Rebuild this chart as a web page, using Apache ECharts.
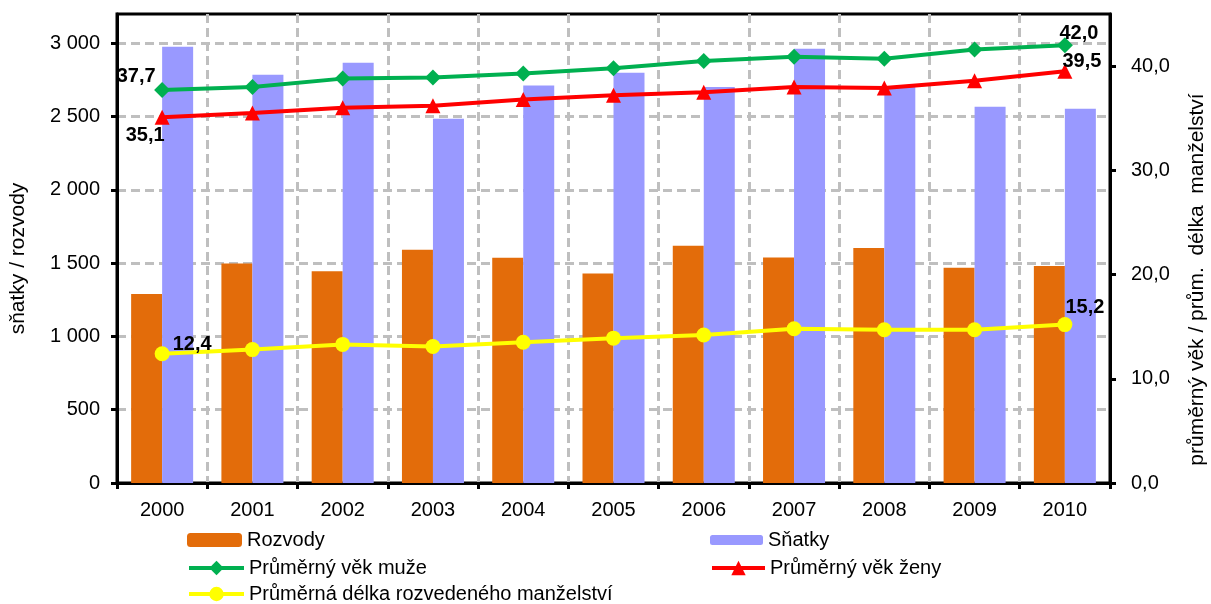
<!DOCTYPE html>
<html>
<head>
<meta charset="utf-8">
<script src="https://cdn.jsdelivr.net/npm/echarts@6/dist/echarts.min.js"></script>
<style>
html,body{margin:0;padding:0;background:#fff;}
#chart{width:1211px;height:604px;}
</style>
</head>
<body>
<div id="chart"></div>
<script>
const years = ['2000','2001','2002','2003','2004','2005','2006','2007','2008','2009','2010'];
const rozvody = [1290, 1497, 1444, 1592, 1537, 1430, 1619, 1539, 1603, 1469, 1480];
const snatky = [2977, 2786, 2868, 2486, 2713, 2800, 2702, 2963, 2705, 2568, 2554];
const vekMuze = [37.7, 38.0, 38.8, 38.9, 39.3, 39.8, 40.5, 40.9, 40.7, 41.6, 42.0];
const vekZeny = [35.1, 35.5, 36.0, 36.2, 36.8, 37.2, 37.5, 38.0, 37.9, 38.6, 39.5];
const delka = [12.4, 12.8, 13.3, 13.1, 13.5, 13.9, 14.2, 14.8, 14.7, 14.7, 15.2];
const leftTicks = [0, 500, 1000, 1500, 2000, 2500, 3000];
const rightTicks = [0, 10, 20, 30, 40];

const FONT = '"Liberation Sans", Arial, sans-serif';
const FS = 20;
const fmtDec = v => v.toFixed(1).replace('.', ',');
const fmtThousands = v => {
  const s = String(Math.round(v));
  return s.length > 3 ? s.slice(0, s.length - 3) + ' ' + s.slice(-3) : s;
};
const labelBase = {
  show: true, color: '#000', fontFamily: FONT, fontSize: 20, fontWeight: 'bold',
  formatter: p => fmtDec(p.value)
};
function withEndLabels(arr, firstLbl, lastLbl) {
  return arr.map((v, i) => {
    if (i === 0) return { value: v, label: Object.assign({}, labelBase, firstLbl) };
    if (i === arr.length - 1) return { value: v, label: Object.assign({}, labelBase, lastLbl) };
    return v;
  });
}
const dashed = { color: '#BFBFBF', width: 3, type: [9, 5] };
const legendText = { fontFamily: FONT, fontSize: FS, color: '#000', lineHeight: 22 };
function oneLegend(name, left, top, w, h) {
  return {
    left: left, top: top, itemWidth: w, itemHeight: h, padding: 0,
    textStyle: legendText, data: [name],
    lineStyle: { width: 4 }
  };
}

const chart = echarts.init(document.getElementById('chart'), null, { renderer: 'canvas' });
chart.setOption({
  animation: false,
  backgroundColor: '#fff',
  textStyle: { fontFamily: FONT, color: '#000' },
  grid: { left: 117, right: 101, top: 14, bottom: 121, show: true, borderColor: '#000', borderWidth: 3,
    containLabel: false, outerBoundsMode: 'none' },
  legend: [
    oneLegend('Rozvody', 187, 529, 55, 14),
    oneLegend('Sňatky', 710, 529, 53, 10),
    oneLegend('Průměrný věk muže', 187, 557, 55, 18),
    oneLegend('Průměrný věk ženy', 710, 557, 53, 18),
    oneLegend('Průměrná délka rozvedeného manželství', 187, 583, 55, 18)
  ],
  xAxis: {
    type: 'category', data: years, boundaryGap: true,
    axisLine: { show: true, lineStyle: { color: '#000', width: 3 } },
    axisTick: { show: true, length: 6, lineStyle: { color: '#000', width: 3 } },
    axisLabel: { color: '#000', fontSize: FS, fontFamily: FONT, margin: 17 },
    splitLine: { show: true, lineStyle: dashed }
  },
  yAxis: [
    {
      type: 'value', min: 0, max: 3200, interval: 500, position: 'left',
      name: 'sňatky / rozvody', nameLocation: 'middle', nameRotate: 90, nameGap: 88,
      nameTextStyle: { fontSize: 21, fontFamily: FONT, color: '#000', padding: [0, 20, 0, 0] },
      axisLine: { show: true, lineStyle: { color: '#000', width: 3 } },
      axisTick: { show: true, length: 6, lineStyle: { color: '#000', width: 3 }, customValues: leftTicks },
      axisLabel: { color: '#000', fontSize: FS, fontFamily: FONT, margin: 17, customValues: leftTicks,
        formatter: v => v > 3000 ? '' : fmtThousands(v) },
      splitLine: { show: true, lineStyle: dashed }
    },
    {
      type: 'value', min: 0, max: 45, interval: 10, position: 'right',
      name: 'průměrný věk / prům.  délka  manželství', nameLocation: 'middle', nameRotate: 90, nameGap: 77,
      nameTextStyle: { fontSize: 21, fontFamily: FONT, color: '#000', padding: [0, 62, 0, 0] },
      axisLine: { show: true, lineStyle: { color: '#000', width: 3 } },
      axisTick: { show: true, length: 6, lineStyle: { color: '#000', width: 3 }, customValues: rightTicks },
      axisLabel: { color: '#000', fontSize: FS, fontFamily: FONT, margin: 21, customValues: rightTicks,
        formatter: v => v > 40 ? '' : fmtDec(v) },
      splitLine: { show: false }
    }
  ],
  series: [
    { name: 'Rozvody', type: 'bar', yAxisIndex: 0, data: rozvody, barWidth: 31, barGap: '0%',
      itemStyle: { color: '#E36C0A' } },
    { name: 'Sňatky', type: 'bar', yAxisIndex: 0, data: snatky, barWidth: 31, barGap: '0%',
      itemStyle: { color: '#9999FF' } },
    { name: 'Průměrný věk muže', type: 'line', yAxisIndex: 1,
      data: withEndLabels(vekMuze, { position: 'top', offset: [-26, 9] }, { position: 'top', offset: [14, 11] }),
      symbol: 'diamond', symbolSize: 16, lineStyle: { color: '#00B050', width: 4 },
      itemStyle: { color: '#00B050' } },
    { name: 'Průměrný věk ženy', type: 'line', yAxisIndex: 1,
      data: withEndLabels(vekZeny, { position: 'bottom', offset: [-17, -4] }, { position: 'top', offset: [17, 13] }),
      symbol: 'triangle', symbolSize: 15, lineStyle: { color: '#FF0000', width: 4 },
      itemStyle: { color: '#FF0000' } },
    { name: 'Průměrná délka rozvedeného manželství', type: 'line', yAxisIndex: 1,
      data: withEndLabels(delka, { position: 'right', offset: [-2, -9] }, { position: 'top', offset: [20, 5] }),
      symbol: 'circle', symbolSize: 15, lineStyle: { color: '#FFFF00', width: 4 },
      itemStyle: { color: '#FFFF00' } }
  ]
});
</script>
</body>
</html>
